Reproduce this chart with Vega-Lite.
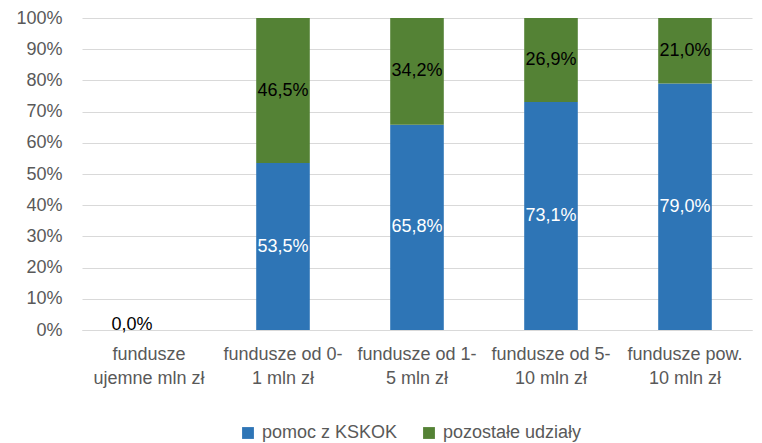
{
  "$schema": "https://vega.github.io/schema/vega-lite/v6.json",
  "width": 670,
  "height": 312,
  "autosize": {"type": "none"},
  "padding": {"left": 82, "top": 18, "right": 10, "bottom": 113},
  "background": "white",
  "config": {
    "font": "Liberation Sans",
    "view": {"stroke": null},
    "axis": {"labelFont": "Liberation Sans", "labelColor": "#595959", "labelFontSize": 18},
    "axisY": {
      "values": [0, 10, 20, 30, 40, 50, 60, 70, 80, 90, 100],
      "labelExpr": "datum.value + '%'",
      "labelOverlap": false,
      "domain": false,
      "ticks": false,
      "gridColor": "#d9d9d9",
      "gridWidth": 1,
      "labelPadding": 20,
      "title": null
    }
  },
  "data": {
    "values": [
      {"cat": "fundusze\nujemne mln zł", "ord": 1, "s": "pomoc z KSKOK", "v": 0},
      {"cat": "fundusze\nujemne mln zł", "ord": 1, "s": "pozostałe udziały", "v": 0},
      {"cat": "fundusze od 0-\n1 mln zł", "ord": 2, "s": "pomoc z KSKOK", "v": 53.5},
      {"cat": "fundusze od 0-\n1 mln zł", "ord": 2, "s": "pozostałe udziały", "v": 46.5},
      {"cat": "fundusze od 1-\n5 mln zł", "ord": 3, "s": "pomoc z KSKOK", "v": 65.8},
      {"cat": "fundusze od 1-\n5 mln zł", "ord": 3, "s": "pozostałe udziały", "v": 34.2},
      {"cat": "fundusze od 5-\n10 mln zł", "ord": 4, "s": "pomoc z KSKOK", "v": 73.1},
      {"cat": "fundusze od 5-\n10 mln zł", "ord": 4, "s": "pozostałe udziały", "v": 26.9},
      {"cat": "fundusze pow.\n10 mln zł", "ord": 5, "s": "pomoc z KSKOK", "v": 79.0},
      {"cat": "fundusze pow.\n10 mln zł", "ord": 5, "s": "pozostałe udziały", "v": 21.0}
    ]
  },
  "transform": [
    {"stack": "v", "groupby": ["cat"], "sort": [{"field": "s", "order": "ascending"}], "as": ["v0", "v1"]},
    {"calculate": "(datum.v0 + datum.v1) / 2", "as": "mid"},
    {"calculate": "replace(format(datum.v, '.1f'), '.', ',') + '%'", "as": "lab"}
  ],
  "encoding": {
    "x": {
      "field": "cat",
      "type": "nominal",
      "sort": {"field": "ord"},
      "title": null,
      "scale": {"paddingInner": 0.6, "paddingOuter": 0.3},
      "axis": {
        "labelAngle": 0,
        "labelExpr": "split(datum.label, '\\n')",
        "labelLineHeight": 24,
        "labelPadding": 15,
        "ticks": false,
        "domainColor": "#d9d9d9",
        "domainWidth": 1,
        "labelBaseline": "top",
        "labelLimit": 200
      }
    }
  },
  "layer": [
    {
      "mark": {"type": "bar"},
      "encoding": {
        "y": {
          "field": "v0",
          "type": "quantitative",
          "scale": {"domain": [0, 100]},
          "title": null
        },
        "y2": {"field": "v1"},
        "color": {
          "field": "s",
          "type": "nominal",
          "title": null,
          "scale": {"domain": ["pomoc z KSKOK", "pozostałe udziały"], "range": ["#2e75b6", "#548235"]},
          "legend": {
            "orient": "none",
            "legendX": 157,
            "legendY": 406,
            "direction": "horizontal",
            "symbolType": "square",
            "symbolSize": 140,
            "symbolStrokeWidth": 0,
            "labelFontSize": 18,
            "labelColor": "#595959",
            "labelFont": "Liberation Sans",
            "columnPadding": 22,
            "labelOffset": 5
          }
        }
      }
    },
    {
      "transform": [{"filter": "datum.v > 0"}],
      "mark": {"type": "text", "fontSize": 18, "baseline": "middle", "align": "center"},
      "encoding": {
        "y": {"field": "mid", "type": "quantitative", "title": null},
        "text": {"field": "lab"},
        "color": {
          "condition": {"test": "datum.s == 'pomoc z KSKOK'", "value": "white"},
          "value": "black"
        }
      }
    },
    {
      "transform": [{"filter": "datum.v == 0 && datum.s == 'pozostałe udziały'"}],
      "mark": {"type": "text", "fontSize": 18, "baseline": "alphabetic", "align": "center", "dx": -17, "color": "black"},
      "encoding": {
        "y": {"field": "mid", "type": "quantitative", "title": null},
        "text": {"field": "lab"}
      }
    }
  ]
}
